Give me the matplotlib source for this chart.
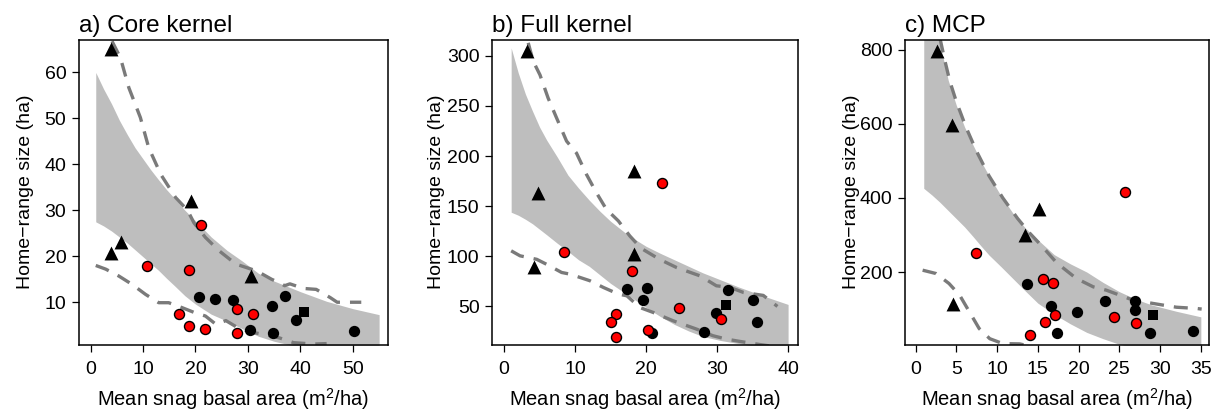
import matplotlib
matplotlib.use("Agg")
import matplotlib.pyplot as plt

plt.rcParams["font.family"] = ["Liberation Sans", "DejaVu Sans"]
plt.rcParams["mathtext.fontset"] = "custom"
plt.rcParams["mathtext.rm"] = "Liberation Sans"
plt.rcParams["mathtext.it"] = "Liberation Sans:italic"

# ---- panel a: core kernel ----
a_band_x = [1, 2.5, 4, 5.5, 7, 8.5, 10, 11.5, 13, 14.5, 16, 18, 20, 23, 26, 29, 32, 35, 40, 45, 50, 55]
a_band_hi = [60, 56.4, 53.2, 49.6, 46.5, 43.6, 41.2, 38.8, 36.6, 34.5, 32.6, 30.0, 27.7, 24.2,
             21.3, 18.9, 16.3, 14.6, 12.3, 10.2, 8.6, 7.3]
a_band_lo = [27.5, 26.6, 25.5, 24.2, 22.9, 21.4, 19.9, 18.4, 16.9, 15.2, 13.6, 11.4, 9.6, 7.4,
             5.9, 4.2, 2.6, 1.5, 0.2, -0.8, -1.5, -2.0]
a_dash_hi_x = [4.1, 5.7, 7.3, 9.5, 11.1, 13.4, 16.2, 18.5, 19.7, 21.9, 24.5, 27.7, 31.7,
               34.5, 36.1, 37.0, 38.0, 40.6, 43.0, 45.7, 47.0, 51.6]
a_dash_hi_y = [66.8, 63.2, 56.7, 50.2, 43.6, 37.8, 32.8, 30.0, 27.3, 24.1, 21.2, 18.3, 16.8,
               15.0, 14.2, 13.6, 14.0, 13.0, 12.8, 11.0, 10.0, 10.0]
a_dash_lo_x = [1, 2.9, 5.4, 7.9, 10.5, 13.0, 14.9, 17.5, 19.7, 21.9, 23.9, 25.8, 28.0,
               30.5, 33.6, 36.1, 38.7, 42.5, 45.0]
a_dash_lo_y = [18.0, 17.2, 15.7, 13.9, 11.7, 9.9, 9.9, 8.8, 7.8, 7.0, 5.2, 6.0, 4.5,
               3.5, 2.9, 2.2, 1.2, 0.9, 1.0]
a_tri_x = [3.9, 19.1, 3.9, 5.8, 30.6]
a_tri_y = [65.0, 32.0, 20.7, 23.0, 15.7]
a_red_x = [21.0, 10.8, 18.8, 16.9, 18.8, 21.8, 28.0, 30.9, 27.9]
a_red_y = [26.7, 17.8, 17.1, 7.5, 4.8, 4.1, 8.6, 7.5, 3.2]
a_blk_x = [20.6, 23.8, 27.2, 30.3, 34.6, 37.1, 34.7, 39.2, 50.3]
a_blk_y = [11.2, 10.6, 10.5, 4.0, 9.1, 11.3, 3.4, 6.1, 3.7]
a_sq_x = [40.7]
a_sq_y = [7.8]

# ---- panel b: full kernel ----
b_band_x = [1, 2, 3, 4, 5, 6, 7.5, 9, 10.5, 12, 13.5, 15, 17.5, 20, 22, 24, 26, 28, 30.5, 33, 36.5, 40]
b_band_hi = [308, 283, 262, 245, 229, 216, 199, 181, 168, 156, 145, 135, 121, 110, 103, 96.5,
             90, 83.5, 76.5, 69.5, 60.5, 52]
b_band_lo = [144, 141, 137, 132.5, 127, 121.5, 113, 105, 96.5, 90, 81.5, 73, 61, 49, 40,
             32, 25.5, 20, 16, 13, 9, 5]
b_dash_hi_x = [3.4, 4.1, 5.06, 6.2, 7.4, 8.8, 10.2, 11.6, 13.0, 14.4, 16.1, 17.7, 19.3,
               21.9, 24.3, 27.6, 29.9, 31.8, 33.7, 36.5, 38.5]
b_dash_hi_y = [313, 294.7, 281, 258, 238, 215, 203, 181.8, 163.5, 147, 135.3, 120.4, 108,
               97, 88.8, 80.5, 70.6, 69, 64, 61, 50]
b_dash_lo_x = [1, 2.25, 4.6, 6.0, 8.1, 9.3, 12.1, 14.0, 16.1, 17.3, 19.1, 21.0, 23.8,
               27.1, 29.4, 31.3, 33.2, 36.0, 38.0]
b_dash_lo_y = [105.5, 100.5, 97, 92, 83.9, 82.2, 75.6, 68.9, 62.3, 60.6, 49, 44, 35.7,
               27.4, 20.8, 17.4, 15.1, 12, 10]
b_tri_x = [3.2, 4.8, 4.2, 18.3, 18.3]
b_tri_y = [305, 162.7, 89, 185.5, 102.3]
b_red_x = [22.2, 8.5, 18.0, 24.7, 30.5, 15.75, 15.1, 15.75, 20.3]
b_red_y = [172.8, 104.7, 85.7, 48.2, 37.5, 42.5, 34.3, 19.3, 26.2]
b_blk_x = [17.3, 20.1, 19.6, 20.9, 28.1, 29.8, 31.5, 35.0, 35.6]
b_blk_y = [67.4, 68.0, 56.5, 23.6, 24.8, 43.5, 66.5, 56.8, 34.7]
b_sq_x = [31.3]
b_sq_y = [51.0]

# ---- panel c: MCP ----
c_band_x = [1, 2, 3, 4, 5, 6, 7, 8, 9, 10.5, 12, 13.5, 15, 17, 19, 21, 23, 25, 27, 29, 32, 35]
c_band_hi = [1000, 900, 815, 718, 650, 592, 545, 500, 460, 405, 357, 318, 287, 247, 222, 200,
             172, 147, 127, 111, 94, 79]
c_band_lo = [426, 408, 388, 366, 344, 322, 297, 271, 246, 214, 181, 148, 116, 86, 60, 37,
             20, 5, -6, -15, -23, -30]
c_dash_hi_x = [3.0, 3.6, 4.2, 5.0, 6.2, 7.5, 9.0, 10.7, 12.5, 14.0, 15.5, 17.3, 19.7,
               21.8, 23.4, 26.7, 30.4, 32.0, 34.5, 35.1]
c_dash_hi_y = [830, 770, 715, 660, 590, 525, 460, 400, 345, 305, 270, 225, 183,
               160, 151, 124, 110.6, 105, 101.6, 100]
c_dash_lo_x = [0.86, 2.5, 4.1, 5.4, 6.6, 7.8, 9.1, 10.7, 12.75, 14.0]
c_dash_lo_y = [205, 196, 169, 137.6, 92.5, 47.4, 20, 6.8, 6, 0]
c_tri_x = [2.6, 4.45, 4.6, 15.1, 13.45]
c_tri_y = [798, 596, 113, 370, 300]
c_red_x = [25.75, 7.4, 15.6, 16.8, 17.06, 15.9, 24.35, 27.0, 14.06]
c_red_y = [414.8, 250.5, 181, 170, 85, 65.5, 79, 62.9, 29.3]
c_blk_x = [13.7, 16.6, 17.4, 19.8, 23.3, 26.9, 26.9, 28.7, 34.0]
c_blk_y = [166.5, 109, 36.6, 92.6, 122.4, 122, 97, 35.8, 40]
c_sq_x = [29.07]
c_sq_y = [85.3]

titles = ["a) Core kernel", "b) Full kernel", "c) MCP"]
xlims = [(-2.2, 56.7), (-1.7, 41.4), (-1.3, 36.0)]
ylims = [(0.8, 67.1), (12, 316), (4.3, 827)]
xticks = [range(0, 51, 10), range(0, 41, 10), range(0, 36, 5)]
yticks = [range(10, 61, 10), range(50, 301, 50), range(200, 801, 200)]
lefts = [0.0651, 0.4056, 0.7461]
widths = [0.2548, 0.2523, 0.2506]
ylabel_x = [-0.145, -0.152, -0.148]

panels = [
    (a_band_x, a_band_hi, a_band_lo, a_dash_hi_x, a_dash_hi_y, a_dash_lo_x, a_dash_lo_y,
     a_tri_x, a_tri_y, a_red_x, a_red_y, a_blk_x, a_blk_y, a_sq_x, a_sq_y),
    (b_band_x, b_band_hi, b_band_lo, b_dash_hi_x, b_dash_hi_y, b_dash_lo_x, b_dash_lo_y,
     b_tri_x, b_tri_y, b_red_x, b_red_y, b_blk_x, b_blk_y, b_sq_x, b_sq_y),
    (c_band_x, c_band_hi, c_band_lo, c_dash_hi_x, c_dash_hi_y, c_dash_lo_x, c_dash_lo_y,
     c_tri_x, c_tri_y, c_red_x, c_red_y, c_blk_x, c_blk_y, c_sq_x, c_sq_y),
]

fig = plt.figure(figsize=(12.13, 4.12), dpi=100)

for i, p in enumerate(panels):
    (bx, bhi, blo, dhx, dhy, dlx, dly, tx, ty, rx, ry, kx, ky, sx, sy) = p
    ax = fig.add_axes([lefts[i], 0.1638, widths[i], 0.7395])

    ax.fill_between(bx, blo, bhi, color="#bebebe", lw=0, zorder=1)
    for xs, ys in ((dhx, dhy), (dlx, dly)):
        ax.plot(xs, ys, color="#7a7a7a", lw=2.4, dashes=(4.2, 3.0), zorder=2,
                solid_joinstyle="round")

    ax.scatter(tx, ty, marker="^", s=100, color="black", lw=0, zorder=3)
    ax.scatter(kx, ky, marker="o", s=66, color="black", lw=0, zorder=3)
    ax.scatter(sx, sy, marker="s", s=44, color="black", lw=0, zorder=3)
    ax.scatter(rx, ry, marker="o", s=52, facecolor="red", edgecolor="black",
               lw=1.0, zorder=4)

    ax.set_xlim(*xlims[i])
    ax.set_ylim(*ylims[i])
    ax.set_xticks(list(xticks[i]))
    ax.set_yticks(list(yticks[i]))
    ax.tick_params(direction="out", length=5, width=0.9, labelsize=14)
    ax.tick_params(axis="x", pad=7)
    ax.tick_params(axis="y", pad=4)
    for sp in ax.spines.values():
        sp.set_linewidth(1.1)

    ax.set_title(titles[i], loc="left", fontsize=17.5, pad=5.5)
    ax.set_xlabel("Mean snag basal area (m$^2$/ha)", fontsize=14.5)
    ax.set_ylabel("Home\u2212range size (ha)", fontsize=14)
    ax.xaxis.set_label_coords(0.5, -0.135)
    ax.yaxis.set_label_coords(ylabel_x[i], 0.5)

fig.savefig("out.png", dpi=100)
